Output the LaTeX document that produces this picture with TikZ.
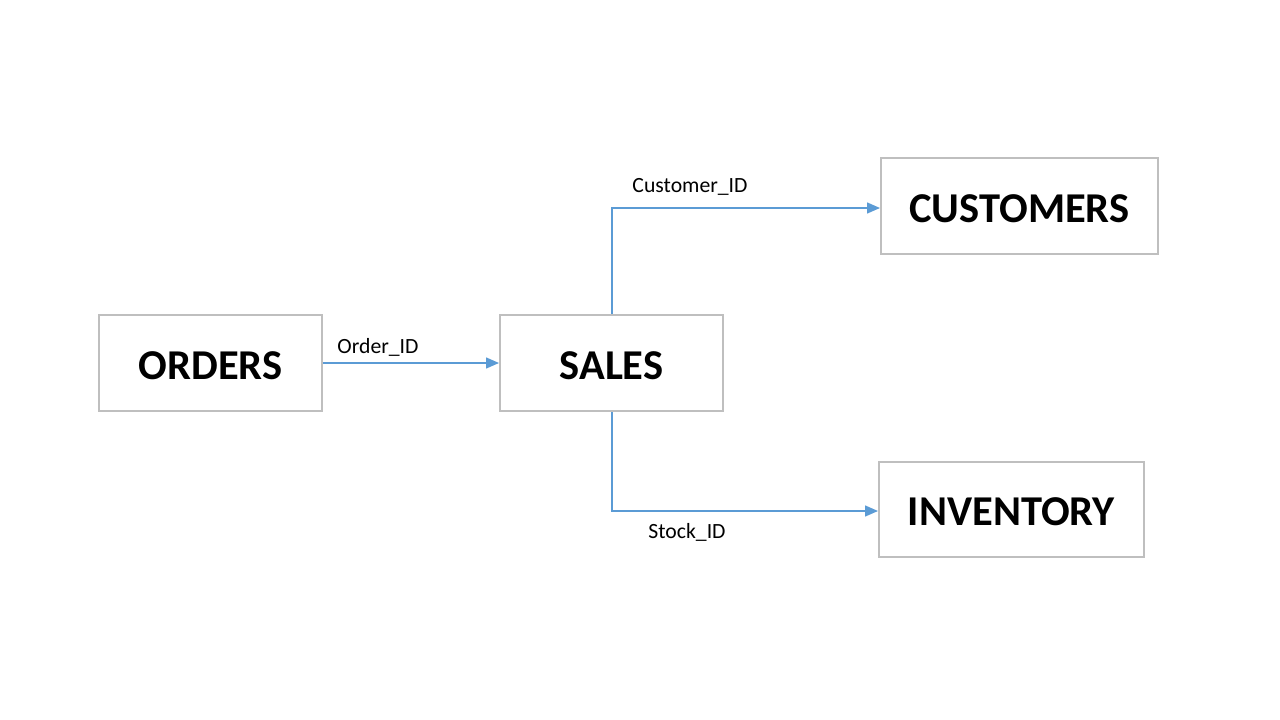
\documentclass[tikz,border=0pt]{standalone}
\usepackage{fontspec}
\setmainfont{Carlito}
\usetikzlibrary{arrows.meta}
\definecolor{boxgray}{RGB}{191,191,191}
\definecolor{linkblue}{RGB}{91,155,213}
\tikzset{
  entity/.style={draw=boxgray, line width=2pt, fill=white, inner sep=0pt,
    text height=32.5pt, text depth=0pt,
    font=\fontsize{42.5}{44}\selectfont\bfseries},
  link/.style={draw=linkblue, line width=1.4pt, -{Triangle[length=13pt,width=11pt]}},
  lbl/.style={font=\fontsize{21.7}{24}\selectfont, inner sep=0pt}
}
\begin{document}
\begin{tikzpicture}[x=1pt,y=-1pt]
\useasboundingbox (0,0) rectangle (1280,720);
\node[entity, minimum width=223pt, minimum height=96pt] (orders) at (210.5,363) {ORDERS};
\node[entity, minimum width=223pt, minimum height=96pt] (sales) at (611.5,363) {SALES};
\node[entity, minimum width=277pt, minimum height=96pt] (cust) at (1019.5,206) {CUSTOMERS};
\node[entity, minimum width=265pt, minimum height=95pt] (inv) at (1011.5,509.5) {INVENTORY};
\draw[link] (orders.east) -- (sales.west);
\draw[link] ([xshift=0.5pt]sales.north) |- ([yshift=-2pt]cust.west);
\draw[link] ([xshift=0.5pt]sales.south) |- ([yshift=-1.5pt]inv.west);
\node[lbl] (l1) at (378,347) {Order\_ID};
\node[lbl] (l2) at (690,187) {Customer\_ID};
\node[lbl] (l3) at (687,532) {Stock\_ID};
\end{tikzpicture}
\end{document}
